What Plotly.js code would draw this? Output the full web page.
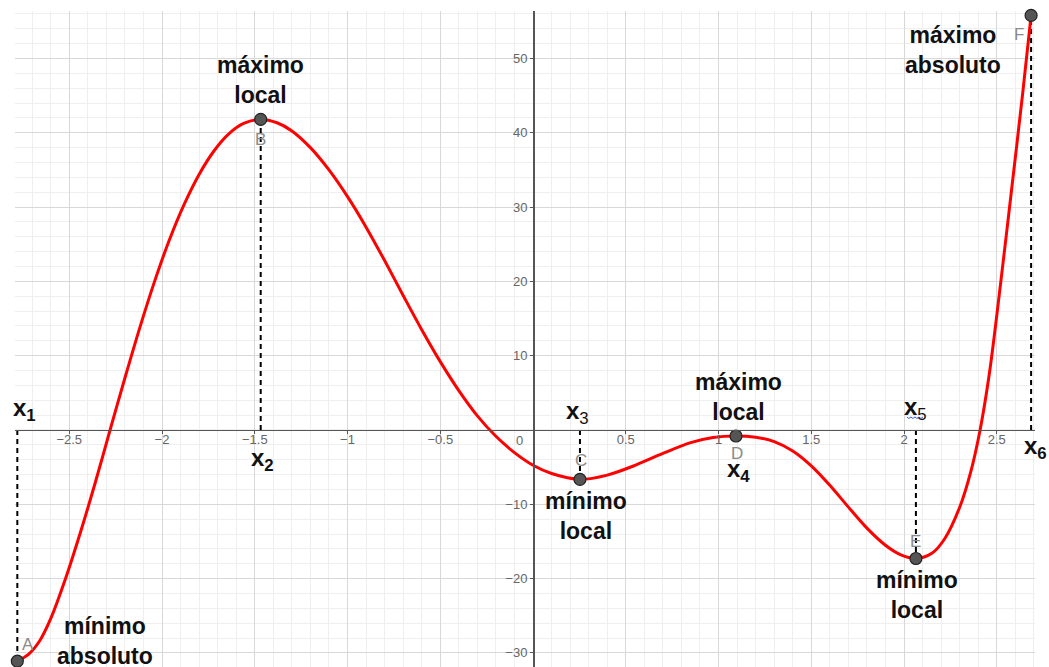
<!DOCTYPE html>
<html>
<head>
<meta charset="utf-8">
<script src="https://cdn.plot.ly/plotly-3.0.1.min.js"></script>
<style>
  html, body { margin: 0; padding: 0; background: #ffffff; }
  #chart { width: 1049px; height: 667px; }
</style>
</head>
<body>
<div id="chart"></div>
<script>
// Sampled values of f(x) along its domain [x1, x6]
const curveX = [-2.78, -2.72, -2.66, -2.60, -2.52, -2.44, -2.36, -2.28, -2.20, -2.12,
                -2.04, -1.96, -1.88, -1.80, -1.72, -1.64, -1.56, -1.468, -1.38, -1.30,
                -1.20, -1.10, -1.00, -0.90, -0.80, -0.70, -0.60, -0.50, -0.40, -0.30,
                -0.20, -0.10, 0.00, 0.10, 0.253, 0.40, 0.55, 0.70, 0.85, 0.97,
                1.094, 1.20, 1.30, 1.40, 1.50, 1.60, 1.70, 1.80, 1.90, 1.98,
                2.064, 2.15, 2.22, 2.30, 2.36, 2.41, 2.46, 2.52, 2.58, 2.64, 2.685];
const curveY = [-31.1, -30.2, -28.4, -25.4, -20.0, -13.8, -7.1, 0.0, 7.0, 13.75,
                20.0, 25.6, 30.4, 34.4, 37.55, 39.85, 41.25, 41.8, 41.35, 40.25,
                38.0, 35.0, 31.4, 27.3, 22.8, 18.1, 13.5, 9.2, 5.3, 1.9,
                -0.85, -3.05, -4.75, -5.85, -6.64, -6.07, -4.76, -3.16, -1.71, -1.01,
                -0.81, -0.98, -1.56, -2.82, -4.82, -7.44, -10.38, -13.21, -15.52, -16.78,
                -17.3, -16.6, -14.6, -10.4, -5.6, 0.0, 7.6, 19.6, 32.4, 45.4, 55.8];

// Extreme points A..F and their abscissas x1..x6
const pointNames = ['A', 'B', 'C', 'D', 'E', 'F'];
const pointX = [-2.78, -1.468, 0.253, 1.094, 2.064, 2.685];
const pointY = [-31.1, 41.8, -6.64, -0.81, -17.3, 55.8];
const extremumKinds = ['mínimo<br>absoluto', 'máximo<br>local', 'mínimo<br>local',
                       'máximo<br>local', 'mínimo<br>local', 'máximo<br>absoluto'];
const abscissaNames = ['<b>x<sub>1</sub></b>', '<b>x<sub>2</sub></b>', '<b>x</b><sub>3</sub>',
                       '<b>x<sub>4</sub></b>', '<b>x</b><sub>5</sub>', '<b>x<sub>6</sub></b>'];

// Axis ticks
const xTickVals = [-2.5, -2, -1.5, -1, -0.5, 0.5, 1, 1.5, 2, 2.5];
const xTickText = ['−2.5', '−2', '−1.5', '−1', '−0.5', '0.5', '1', '1.5', '2', '2.5'];
const yTickVals = [-30, -20, -10, 10, 20, 30, 40, 50];
const yTickText = ['−30', '−20', '−10', '10', '20', '30', '40', '50'];

const xRange = [-2.7925, 2.706];
const yRange = [-31.9, 56.39];

// pixel offsets of the text around each point
const kindShift   = [[88, 20], [0, 39], [6, -37], [3, 39], [1, -36], [-78, -35]];
const letterShift = [[11, 17], [0, -20], [1, 19], [1, -17], [0, 17], [-12, -19]];
const absShift    = [[7, 20], [2, -30], [-2, 17], [3, -41], [0, 21], [4, -18]];

const FONT = '"Liberation Sans", Arial, sans-serif';

const curve = {
  type: 'scatter', mode: 'lines',
  x: curveX, y: curveY,
  line: { color: '#ff0000', width: 3, shape: 'spline', smoothing: 0.9 },
  hoverinfo: 'skip'
};

const points = {
  type: 'scatter', mode: 'markers',
  x: pointX, y: pointY,
  marker: { size: 12, color: '#555555', line: { color: '#222222', width: 1.2 } },
  cliponaxis: false,
  hoverinfo: 'skip'
};

const shapes = [];
[0, 1, 2, 4, 5].forEach(i => {
  shapes.push({
    type: 'line', xref: 'x', yref: 'y', layer: 'between',
    x0: pointX[i], x1: pointX[i], y0: 0, y1: pointY[i],
    line: { color: '#000000', width: 2, dash: '5px,4px' }
  });
});
// squiggle under the x of x5
shapes.push({
  type: 'path', xref: 'x', yref: 'y', xsizemode: 'pixel', ysizemode: 'pixel',
  xanchor: pointX[4], yanchor: 0,
  path: 'M -9 13 L -7 11.5 L -5 13 L -3 11.5 L -1 13 L 1 11.5 L 3 13 L 5 11.5 L 7 13',
  line: { color: '#3355ee', width: 1 }
});

const annotations = [];
pointNames.forEach((name, i) => {
  annotations.push({
    x: pointX[i], y: pointY[i], xref: 'x', yref: 'y', showarrow: false,
    text: extremumKinds[i], xshift: kindShift[i][0], yshift: kindShift[i][1],
    xanchor: 'center', yanchor: 'middle',
    font: { family: FONT, size: 23, color: '#111111', weight: 'bold' }
  });
  annotations.push({
    x: pointX[i], y: pointY[i], xref: 'x', yref: 'y', showarrow: false,
    text: name, xshift: letterShift[i][0], yshift: letterShift[i][1],
    xanchor: 'center', yanchor: 'middle',
    font: { family: FONT, size: 17, color: '#8a8a8a' }
  });
  annotations.push({
    x: pointX[i], y: 0, xref: 'x', yref: 'y', showarrow: false,
    text: abscissaNames[i], xshift: absShift[i][0], yshift: absShift[i][1],
    xanchor: 'center', yanchor: 'middle',
    font: { family: FONT, size: 24, color: '#111111' }
  });
});
// origin label
annotations.push({
  x: 0, y: 0, xref: 'x', yref: 'y', showarrow: false, text: '0',
  xshift: -14, yshift: -11, xanchor: 'center', yanchor: 'middle',
  font: { family: FONT, size: 13, color: '#666666' }
});

const xZeroPos = (0 - yRange[0]) / (yRange[1] - yRange[0]);
const yZeroPos = (0 - xRange[0]) / (xRange[1] - xRange[0]);

const layout = {
  width: 1049, height: 667,
  margin: { l: 15, r: 14, t: 11, b: 0, pad: 0 },
  paper_bgcolor: '#ffffff', plot_bgcolor: '#ffffff',
  showlegend: false,
  font: { family: FONT, size: 13, color: '#666666' },
  xaxis: {
    range: xRange, autorange: false, fixedrange: true,
    anchor: 'free', position: xZeroPos,
    tickvals: xTickVals, ticktext: xTickText,
    ticks: 'outside', ticklen: 3, tickcolor: '#555555', tickwidth: 1,
    ticklabelstandoff: -6,
    tickfont: { family: FONT, size: 13, color: '#666666' },
    showline: true, linecolor: '#555555', linewidth: 1.5,
    showgrid: true, gridcolor: '#d8d8d8', gridwidth: 1,
    dtick: 0.5, zeroline: false, automargin: false,
    minor: { dtick: 0.1, showgrid: true, gridcolor: '#efefef', gridwidth: 1, ticks: '' }
  },
  yaxis: {
    range: yRange, autorange: false, fixedrange: true,
    anchor: 'free', position: yZeroPos,
    tickvals: yTickVals, ticktext: yTickText,
    ticks: 'outside', ticklen: 3, tickcolor: '#555555', tickwidth: 1,
    tickfont: { family: FONT, size: 13, color: '#666666' },
    showline: true, linecolor: '#555555', linewidth: 1.5,
    showgrid: true, gridcolor: '#d8d8d8', gridwidth: 1,
    dtick: 10, zeroline: false, automargin: false,
    minor: { dtick: 2, showgrid: true, gridcolor: '#efefef', gridwidth: 1, ticks: '' }
  },
  shapes: shapes,
  annotations: annotations
};

Plotly.newPlot('chart', [curve, points], layout, { displayModeBar: false, staticPlot: true });
</script>
</body>
</html>
